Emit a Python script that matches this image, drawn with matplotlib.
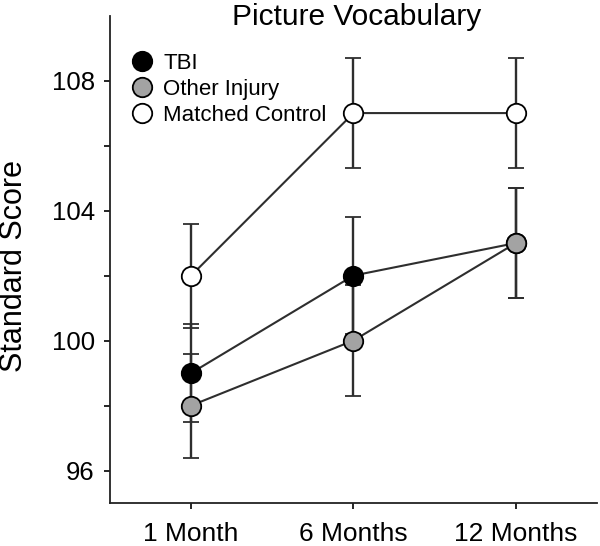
import matplotlib
matplotlib.use("Agg")
import matplotlib.pyplot as plt
from matplotlib.lines import Line2D

plt.rcParams['font.family'] = ['Liberation Sans', 'DejaVu Sans']

timepoints = ["1 Month", "6 Months", "12 Months"]
groups = ["TBI", "Other Injury", "Matched Control"]
tbi = [99.0, 102.0, 103.0]
tbi_err = [1.5, 1.8, 1.7]
other = [98.0, 100.0, 103.0]
other_err = [1.6, 1.7, 1.7]
control = [102.0, 107.0, 107.0]
control_err = [1.6, 1.7, 1.7]

fills = ["black", "#a3a3a3", "white"]
line_col = "#2e2e2e"

fig = plt.figure(figsize=(6, 5.46), dpi=100)
ax = fig.add_axes([110 / 600, 43 / 546, 487 / 600, 487.4 / 546])

x = list(range(len(timepoints)))
handles = []
for name, vals, errs, fc in zip(groups, [tbi, other, control],
                                [tbi_err, other_err, control_err], fills):
    ax.errorbar(x, vals, yerr=errs, fmt='o-', color=line_col, lw=1.5,
                mfc=fc, mec='black', ms=14, mew=1.3,
                ecolor=line_col, elinewidth=1.7, capsize=5.5, capthick=1.7)
    handles.append(Line2D([], [], ls='none', marker='o', ms=14, mfc=fc,
                          mec='black', mew=1.3, label=name))

ax.set_xlim(-0.5, 2.5)
ax.set_ylim(95, 110)
ax.set_xticks(x)
ax.set_xticklabels(timepoints)
ax.set_yticks([96, 100, 104, 108])
ax.set_yticks([98, 102, 106], minor=True)

for side in ['top', 'right']:
    ax.spines[side].set_visible(False)
for side in ['left', 'bottom']:
    ax.spines[side].set_linewidth(1.3)
    ax.spines[side].set_color('#222222')

ax.tick_params(axis='x', direction='out', length=4, width=1.2, labelsize=19, pad=10)
ax.tick_params(axis='y', which='both', direction='out', length=4, width=1.2,
               labelsize=18.5, pad=7)

fig.text(14.2 / 600, 1 - 266 / 546, "Standard Score", rotation=90,
         ha='center', va='center', fontsize=22)
fig.text(357 / 600, 1 - 25 / 546, "Picture Vocabulary", ha='center',
         va='baseline', fontsize=21.5)

ax.legend(handles=handles, loc='upper left',
          bbox_to_anchor=(130.6 / 600, 1 - 53 / 546),
          bbox_transform=fig.transFigure, frameon=False, fontsize=16,
          numpoints=1, handlelength=1.0, handletextpad=0.46,
          borderpad=0, borderaxespad=0, labelspacing=0.22)

fig.savefig("out.png", dpi=100)
